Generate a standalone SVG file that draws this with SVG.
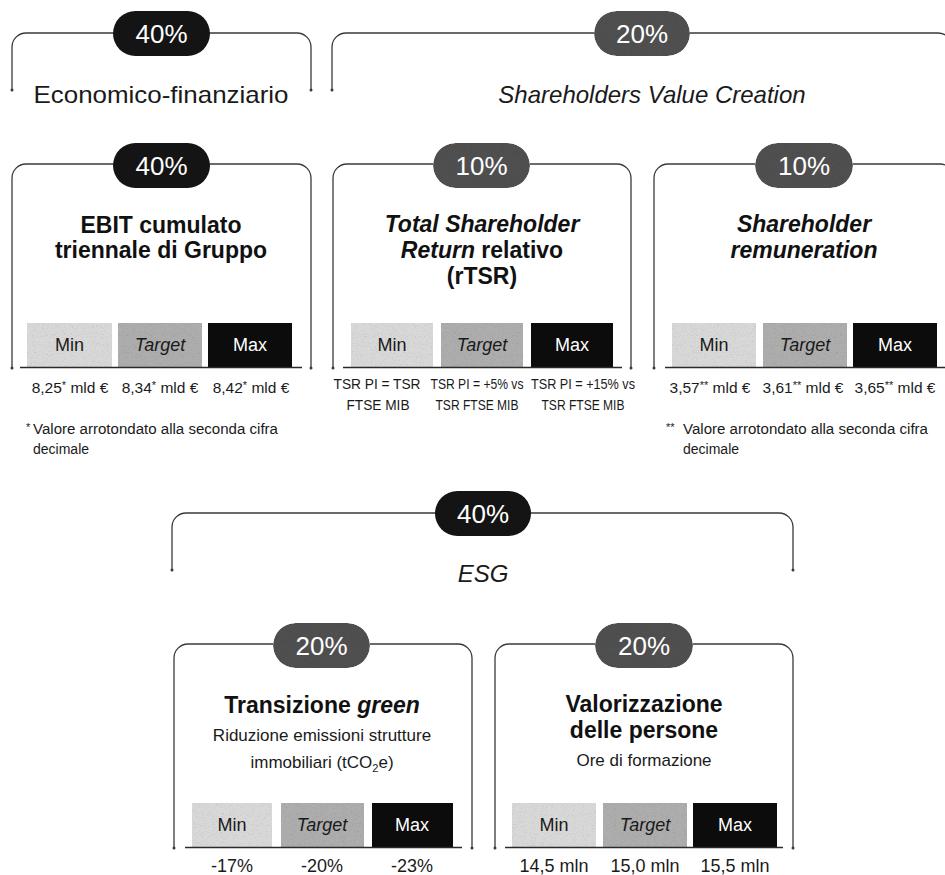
<svg xmlns="http://www.w3.org/2000/svg" width="945" height="875" viewBox="0 0 945 875">
<defs>
<filter id="grain" x="0" y="0" width="1" height="1">
<feTurbulence type="fractalNoise" baseFrequency="0.9" numOctaves="2" seed="4" result="t"/>
<feColorMatrix in="t" type="saturate" values="0" result="g"/>
<feComponentTransfer in="g" result="g2"><feFuncR type="linear" slope="0.9" intercept="0.58"/><feFuncG type="linear" slope="0.9" intercept="0.58"/><feFuncB type="linear" slope="0.9" intercept="0.58"/><feFuncA type="linear" slope="0" intercept="1"/></feComponentTransfer>
<feBlend in="SourceGraphic" in2="g2" mode="multiply" result="b"/>
<feComposite in="b" in2="SourceGraphic" operator="in"/>
</filter>
</defs>
<style>
.br{fill:none;stroke:#3a3a3a;stroke-width:1.3}
.base{stroke:#2a2a2a;stroke-width:1.4}
.dot{fill:#3a3a3a}
.pk{fill:#141414}
.pg{fill:#505050;filter:url(#grain)}
.pt{font-family:"Liberation Sans",Arial,sans-serif;font-size:26px;fill:#fff;text-anchor:middle}
.hd{font-family:"Liberation Sans",Arial,sans-serif;font-size:24px;fill:#1a1a1a;text-anchor:middle}
.it{font-style:italic}
.ti{font-family:"Liberation Sans",Arial,sans-serif;font-size:23px;font-weight:bold;fill:#111;text-anchor:middle}
.sb{font-family:"Liberation Sans",Arial,sans-serif;font-size:17px;fill:#1a1a1a;text-anchor:middle}
.bmin{fill:#d8d8d8;filter:url(#grain)}
.btar{fill:#adadad;filter:url(#grain)}
.bmax{fill:#0c0c0c}
.bl{font-family:"Liberation Sans",Arial,sans-serif;font-size:18px;fill:#1a1a1a;text-anchor:middle}
.bw{fill:#fff}
.v{font-family:"Liberation Sans",Arial,sans-serif;font-size:15.5px;fill:#1a1a1a;text-anchor:middle}
.vc{font-family:"Liberation Sans",Arial,sans-serif;font-size:14px;fill:#1a1a1a;text-anchor:middle}
.vb{font-family:"Liberation Sans",Arial,sans-serif;font-size:18px;fill:#1a1a1a;text-anchor:middle}
.fn{font-family:"Liberation Sans",Arial,sans-serif;font-size:14px;fill:#1a1a1a}
.sup{font-size:11px}
</style>

<g id="connectors">
<path class="br" d="M12,90 V47 A14,14 0 0 1 26,33 H297 A14,14 0 0 1 311,47 V90"/>
<path class="br" d="M332,90 V47 A14,14 0 0 1 346,33 H938 A14,14 0 0 1 952,47 V90"/>
<path class="br" d="M172,570 V527 A14,14 0 0 1 186,513 H779 A14,14 0 0 1 793,527 V570"/>
<circle class="dot" cx="12" cy="90" r="1.5"/><circle class="dot" cx="311" cy="90" r="1.5"/>
<circle class="dot" cx="332" cy="90" r="1.5"/>
<circle class="dot" cx="172" cy="570" r="1.5"/><circle class="dot" cx="793" cy="570" r="1.5"/>
</g>

<g id="group-economico">
<rect class="pk" x="113" y="11" width="97" height="45" rx="22.5"/>
<text class="pt" x="161.5" y="43">40%</text>
<text class="hd" x="161" y="103" textLength="255" lengthAdjust="spacingAndGlyphs">Economico-finanziario</text>
</g>

<g id="group-svc">
<rect class="pg" x="594" y="11" width="96" height="45" rx="22.5"/>
<text class="pt" x="642" y="43">20%</text>
<text class="hd it" x="652" y="103">Shareholders Value Creation</text>
</g>

<g id="group-esg">
<rect class="pk" x="435" y="491" width="96" height="45" rx="22.5"/>
<text class="pt" x="483" y="523">40%</text>
<text class="hd it" x="483" y="582">ESG</text>
</g>

<g id="box-ebit">
<path class="br" d="M12,368 V178 A14,14 0 0 1 26,164 H297 A14,14 0 0 1 311,178 V368"/>
<circle class="dot" cx="12" cy="368" r="1.5"/><circle class="dot" cx="311" cy="368" r="1.5"/>
<rect class="pk" x="113" y="143" width="97" height="45" rx="22.5"/>
<text class="pt" x="161.5" y="175">40%</text>
<text class="ti" x="161" y="233">EBIT cumulato</text>
<text class="ti" x="161" y="258">triennale di Gruppo</text>
<rect class="bmin" x="27" y="323" width="85" height="44"/>
<rect class="btar" x="118" y="323" width="84" height="44"/>
<rect class="bmax" x="208" y="323" width="84" height="44"/>
<text class="bl" x="69.5" y="351">Min</text>
<text class="bl it" x="160" y="351">Target</text>
<text class="bl bw" x="250" y="351">Max</text>
<line class="base" x1="20" y1="367.5" x2="302" y2="367.5"/>
<text class="v" x="70" y="393">8,25<tspan class="sup" dy="-4">*</tspan><tspan dy="4"> mld €</tspan></text>
<text class="v" x="160" y="393">8,34<tspan class="sup" dy="-4">*</tspan><tspan dy="4"> mld €</tspan></text>
<text class="v" x="251" y="393">8,42<tspan class="sup" dy="-4">*</tspan><tspan dy="4"> mld €</tspan></text>
<text class="fn" x="26" y="434"><tspan class="sup" dy="-3">*</tspan><tspan x="33" dy="3" textLength="245" lengthAdjust="spacingAndGlyphs">Valore arrotondato alla seconda cifra</tspan></text>
<text class="fn" x="33" y="454">decimale</text>
</g>

<g id="box-tsr">
<path class="br" d="M333,368 V178 A14,14 0 0 1 347,164 H617 A14,14 0 0 1 631,178 V368"/>
<circle class="dot" cx="333" cy="368" r="1.5"/><circle class="dot" cx="631" cy="368" r="1.5"/>
<rect class="pg" x="433" y="143" width="97" height="45" rx="22.5"/>
<text class="pt" x="481.5" y="175">10%</text>
<text class="ti it" x="482" y="232">Total Shareholder</text>
<text class="ti" x="482" y="258"><tspan font-style="italic">Return</tspan> relativo</text>
<text class="ti" x="482" y="284">(rTSR)</text>
<rect class="bmin" x="351" y="323" width="82" height="44"/>
<rect class="btar" x="441" y="323" width="82" height="44"/>
<rect class="bmax" x="531" y="323" width="82" height="44"/>
<text class="bl" x="392" y="351">Min</text>
<text class="bl it" x="482" y="351">Target</text>
<text class="bl bw" x="572" y="351">Max</text>
<line class="base" x1="343" y1="367.5" x2="622" y2="367.5"/>
<text class="vc" x="377" y="389" textLength="87" lengthAdjust="spacingAndGlyphs">TSR PI = TSR</text>
<text class="vc" x="378" y="410" textLength="63" lengthAdjust="spacingAndGlyphs">FTSE MIB</text>
<text class="vc" x="477" y="389" textLength="93" lengthAdjust="spacingAndGlyphs">TSR PI = +5% vs</text>
<text class="vc" x="477" y="410" textLength="83" lengthAdjust="spacingAndGlyphs">TSR FTSE MIB</text>
<text class="vc" x="583" y="389" textLength="104" lengthAdjust="spacingAndGlyphs">TSR PI = +15% vs</text>
<text class="vc" x="583" y="410" textLength="83" lengthAdjust="spacingAndGlyphs">TSR FTSE MIB</text>
</g>

<g id="box-remuneration">
<path class="br" d="M654,368 V178 A14,14 0 0 1 668,164 H940 A14,14 0 0 1 954,178 V368"/>
<circle class="dot" cx="654" cy="368" r="1.5"/>
<rect class="pg" x="755" y="143" width="98" height="45" rx="22.5"/>
<text class="pt" x="804" y="175">10%</text>
<text class="ti it" x="804" y="232">Shareholder</text>
<text class="ti it" x="804" y="258">remuneration</text>
<rect class="bmin" x="672" y="323" width="84" height="44"/>
<rect class="btar" x="763" y="323" width="84" height="44"/>
<rect class="bmax" x="853" y="323" width="84" height="44"/>
<text class="bl" x="714" y="351">Min</text>
<text class="bl it" x="805" y="351">Target</text>
<text class="bl bw" x="895" y="351">Max</text>
<line class="base" x1="665" y1="367.5" x2="945" y2="367.5"/>
<text class="v" x="710" y="393">3,57<tspan class="sup" dy="-4">**</tspan><tspan dy="4"> mld €</tspan></text>
<text class="v" x="803" y="393">3,61<tspan class="sup" dy="-4">**</tspan><tspan dy="4"> mld €</tspan></text>
<text class="v" x="895" y="393">3,65<tspan class="sup" dy="-4">**</tspan><tspan dy="4"> mld €</tspan></text>
<text class="fn" x="666" y="434"><tspan class="sup" dy="-3">**</tspan><tspan x="683" dy="3" textLength="245" lengthAdjust="spacingAndGlyphs">Valore arrotondato alla seconda cifra</tspan></text>
<text class="fn" x="683" y="454">decimale</text>
</g>

<g id="box-green">
<path class="br" d="M174,848 V658 A14,14 0 0 1 188,644 H458 A14,14 0 0 1 472,658 V848"/>
<circle class="dot" cx="174" cy="848" r="1.5"/><circle class="dot" cx="472" cy="848" r="1.5"/>
<rect class="pg" x="273" y="623" width="97" height="45" rx="22.5"/>
<text class="pt" x="321.5" y="655">20%</text>
<text class="ti" x="322" y="713">Transizione <tspan font-style="italic">green</tspan></text>
<text class="sb" x="322" y="741">Riduzione emissioni strutture</text>
<text class="sb" x="322" y="768">immobiliari (tCO<tspan font-size="11" dy="4">2</tspan><tspan dy="-4">e)</tspan></text>
<rect class="bmin" x="192" y="803" width="80" height="44"/>
<rect class="btar" x="281" y="803" width="83" height="44"/>
<rect class="bmax" x="372" y="803" width="81" height="44"/>
<text class="bl" x="232" y="831">Min</text>
<text class="bl it" x="322" y="831">Target</text>
<text class="bl bw" x="412" y="831">Max</text>
<line class="base" x1="185" y1="847.5" x2="462" y2="847.5"/>
<text class="vb" x="232" y="872">-17%</text>
<text class="vb" x="322" y="872">-20%</text>
<text class="vb" x="412" y="872">-23%</text>
</g>

<g id="box-persone">
<path class="br" d="M495,848 V658 A14,14 0 0 1 509,644 H779 A14,14 0 0 1 793,658 V848"/>
<circle class="dot" cx="495" cy="848" r="1.5"/><circle class="dot" cx="793" cy="848" r="1.5"/>
<rect class="pg" x="595" y="623" width="98" height="45" rx="22.5"/>
<text class="pt" x="644" y="655">20%</text>
<text class="ti" x="644" y="712">Valorizzazione</text>
<text class="ti" x="644" y="738">delle persone</text>
<text class="sb" x="644" y="766">Ore di formazione</text>
<rect class="bmin" x="512" y="803" width="84" height="44"/>
<rect class="btar" x="603" y="803" width="84" height="44"/>
<rect class="bmax" x="693" y="803" width="84" height="44"/>
<text class="bl" x="554" y="831">Min</text>
<text class="bl it" x="645" y="831">Target</text>
<text class="bl bw" x="735" y="831">Max</text>
<line class="base" x1="505" y1="847.5" x2="783" y2="847.5"/>
<text class="vb" x="554" y="872">14,5 mln</text>
<text class="vb" x="645" y="872">15,0 mln</text>
<text class="vb" x="735" y="872">15,5 mln</text>
</g>
</svg>
